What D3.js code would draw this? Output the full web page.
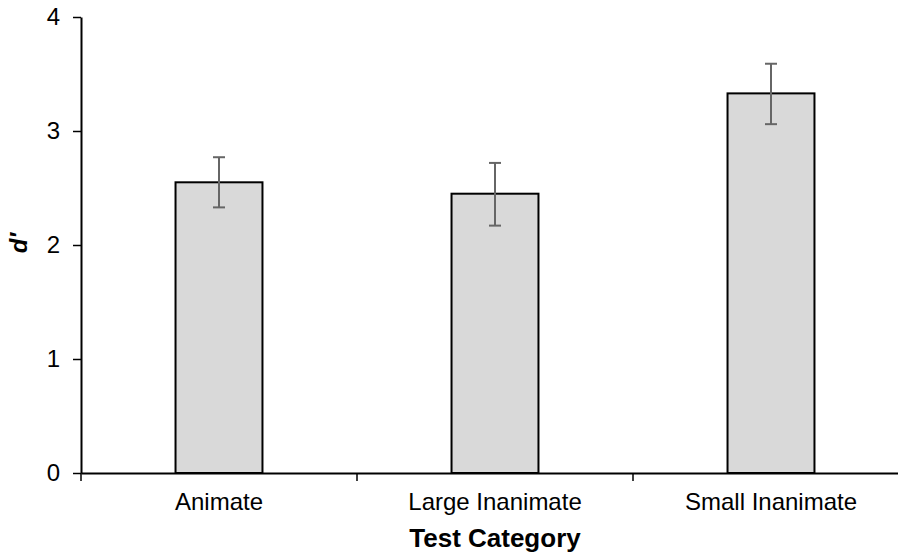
<!DOCTYPE html>
<html>
<head>
<meta charset="utf-8">
<script src="https://cdn.jsdelivr.net/npm/d3@7"></script>
<style>
  body { margin: 0; background: #fff; }
  svg { display: block; font-family: "Liberation Sans", Arial, sans-serif; }
</style>
</head>
<body>
<div id="chart"></div>
<script>
// datos
const categories = ["Animate", "Large Inanimate", "Small Inanimate"];
const dprime = [2.55, 2.45, 3.33];
const errUpper = [2.77, 2.72, 3.59];
const errLower = [2.33, 2.17, 3.06];
const yTicks = [0, 1, 2, 3, 4];

const W = 898, H = 559;
const svg = d3.select("#chart").append("svg")
    .attr("width", W)
    .attr("height", H);

// escalas
const x = d3.scaleBand()
    .domain(categories)
    .range([81, 909])
    .padding(0);

const y = d3.scaleLinear()
    .domain([0, 4])
    .range([473, 17]);

const barW = x.bandwidth() * 0.315;

const data = categories.map((c, i) => ({
    cat: c, v: dprime[i], hi: errUpper[i], lo: errLower[i]
}));

// barras
svg.selectAll(".bar").data(data).enter().append("rect")
    .attr("class", "bar")
    .attr("x", d => x(d.cat) + x.bandwidth() / 2 - barW / 2)
    .attr("y", d => y(d.v))
    .attr("width", barW)
    .attr("height", d => y(0) - y(d.v))
    .attr("fill", "#d9d9d9")
    .attr("stroke", "#000")
    .attr("stroke-width", 2);

// barras de error
const capW = 12;
const err = svg.selectAll(".err").data(data).enter().append("g")
    .attr("class", "err")
    .attr("stroke", "#666")
    .attr("stroke-width", 2);
err.append("line")
    .attr("x1", d => x(d.cat) + x.bandwidth() / 2)
    .attr("x2", d => x(d.cat) + x.bandwidth() / 2)
    .attr("y1", d => y(d.hi))
    .attr("y2", d => y(d.lo));
err.append("line")
    .attr("x1", d => x(d.cat) + x.bandwidth() / 2 - capW / 2)
    .attr("x2", d => x(d.cat) + x.bandwidth() / 2 + capW / 2)
    .attr("y1", d => y(d.hi))
    .attr("y2", d => y(d.hi));
err.append("line")
    .attr("x1", d => x(d.cat) + x.bandwidth() / 2 - capW / 2)
    .attr("x2", d => x(d.cat) + x.bandwidth() / 2 + capW / 2)
    .attr("y1", d => y(d.lo))
    .attr("y2", d => y(d.lo));

// eje Y
const yAxis = svg.append("g")
    .attr("transform", "translate(81,0)")
    .call(d3.axisLeft(y).tickValues(yTicks).tickFormat(d3.format("d")).tickSize(8).tickPadding(13).tickSizeOuter(0));
yAxis.select(".domain").attr("stroke", "#000").attr("stroke-width", 2);
yAxis.selectAll(".tick line").attr("stroke", "#000").attr("stroke-width", 1.5);
yAxis.selectAll(".tick text")
    .attr("font-size", 24)
    .attr("font-family", "Liberation Sans, Arial, sans-serif")
    .attr("fill", "#000");

// eje X: etiquetas centradas
const xAxis = svg.append("g")
    .attr("transform", "translate(0,473)")
    .call(d3.axisBottom(x).tickSize(0).tickPadding(20).tickSizeOuter(0));
xAxis.select(".domain").attr("stroke", "#000").attr("stroke-width", 2);
xAxis.selectAll(".tick text")
    .attr("font-size", 24)
    .attr("font-family", "Liberation Sans, Arial, sans-serif")
    .attr("fill", "#000");

// marcas entre categorías
const bounds = categories.map(c => x(c)).concat([x.range()[1]]);
svg.append("g").selectAll("line").data(bounds).enter().append("line")
    .attr("x1", d => d).attr("x2", d => d)
    .attr("y1", 473).attr("y2", 481)
    .attr("stroke", "#000")
    .attr("stroke-width", 1.5);

// títulos de ejes
svg.append("text")
    .attr("x", 495)
    .attr("y", 547)
    .attr("text-anchor", "middle")
    .attr("font-size", 26)
    .attr("font-weight", "bold")
    .text("Test Category");

svg.append("text")
    .attr("transform", "translate(27,243) rotate(-90)")
    .attr("text-anchor", "middle")
    .attr("font-size", 24)
    .attr("font-weight", "bold")
    .attr("font-style", "italic")
    .text("d′");
</script>
</body>
</html>
